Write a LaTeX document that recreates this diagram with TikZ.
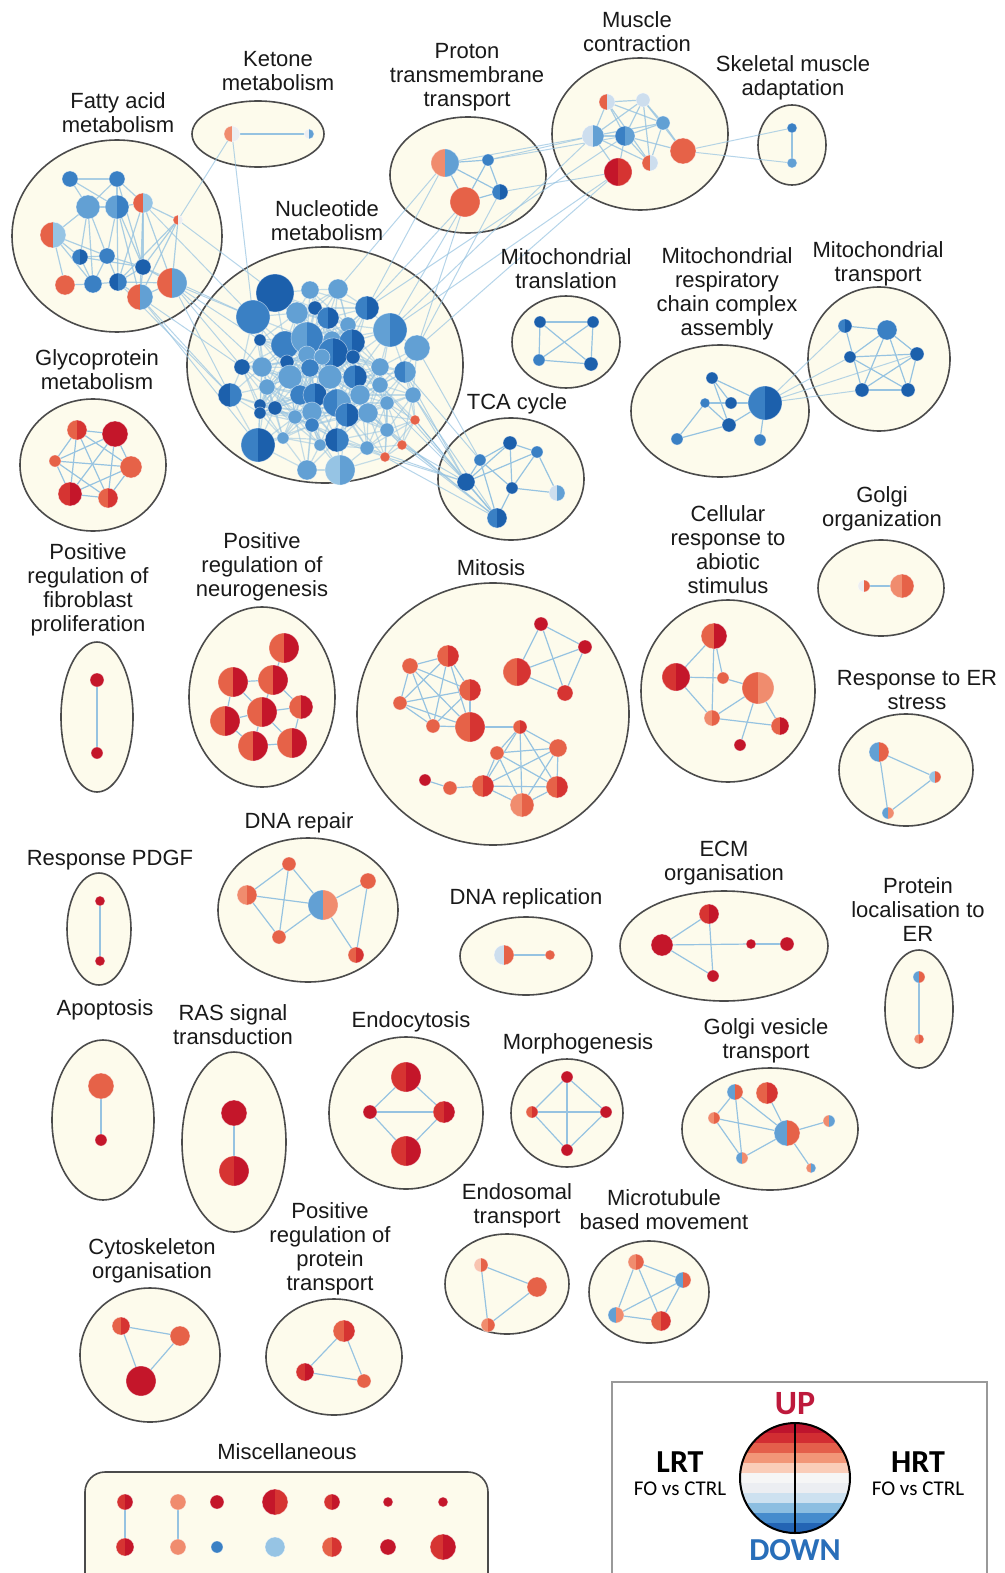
\documentclass[tikz,border=0pt]{standalone}
\usepackage{fontspec}
\setmainfont{Liberation Sans}
\newfontfamily\legfont{Carlito}
\usetikzlibrary{calc}
\pgfdeclarelayer{bg}\pgfdeclarelayer{edges}
\pgfsetlayers{bg,edges,main}
\definecolor{R1}{RGB}{196,22,42}
\definecolor{R2}{RGB}{214,52,50}
\definecolor{R3}{RGB}{230,98,72}
\definecolor{R4}{RGB}{240,140,110}
\definecolor{R5}{RGB}{248,196,176}
\definecolor{W}{RGB}{236,238,242}
\definecolor{B5}{RGB}{205,222,238}
\definecolor{B4}{RGB}{150,196,228}
\definecolor{B3}{RGB}{98,160,212}
\definecolor{B2}{RGB}{58,128,196}
\definecolor{B1}{RGB}{28,96,172}
\definecolor{cream}{RGB}{253,251,236}
\definecolor{border}{RGB}{75,75,75}
\definecolor{edgec}{RGB}{150,195,225}
\definecolor{upc}{RGB}{190,25,60}
\definecolor{downc}{RGB}{40,110,185}
\newcommand{\mynd}[6]{%
 \coordinate (#1) at (#2,#3);
 \fill[#5] (#2,#3) ++(0,#4) arc[start angle=90,delta angle=180,radius=#4] -- cycle;
 \fill[#6] (#2,#3) ++(0,#4) arc[start angle=90,delta angle=-180,radius=#4] -- cycle;
 \draw[white,line width=0.3pt,opacity=0.5] (#2,#3) circle (#4);
}
\newcommand{\labfont}{\fontsize{11}{12}\selectfont}
\tikzset{
 clus/.style={fill=cream,draw=border,line width=0.8pt},
 lab/.style={font=\labfont,align=center,inner sep=0pt,text=black!90},
 edge/.style={draw=edgec,line width=0.6pt},
 xedge/.style={draw=edgec,line width=0.5pt,opacity=0.7}
}
\newdimen\ddx \newdimen\ddy
\begin{document}
\begin{tikzpicture}[x=0.5pt,y=-0.5pt]
\useasboundingbox (0,0) rectangle (1005,1573);
% ---------------- clusters
\begin{pgfonlayer}{bg}
\fill[white] (0,0) rectangle (1005,1573);
\path[clus] (117,236) ellipse [x radius=105, y radius=96];
\path[clus] (258,134) ellipse [x radius=66, y radius=33];
\path[clus] (468,175) ellipse [x radius=78, y radius=58];
\path[clus] (640,134) ellipse [x radius=88, y radius=76];
\path[clus] (792,145) ellipse [x radius=34, y radius=40];
\path[clus] (325,365) ellipse [x radius=138, y radius=118];
\path[clus] (566,342) ellipse [x radius=54, y radius=46];
\path[clus] (720,411) ellipse [x radius=89, y radius=66];
\path[clus] (879,359) ellipse [x radius=71, y radius=72];
\path[clus] (511,479) ellipse [x radius=73, y radius=61];
\path[clus] (93,465) ellipse [x radius=73, y radius=66];
\path[clus] (97,717) ellipse [x radius=36, y radius=75];
\path[clus] (262,697) ellipse [x radius=73, y radius=90];
\path[clus] (493,714) ellipse [x radius=136, y radius=131];
\path[clus] (728,691) ellipse [x radius=87, y radius=91];
\path[clus] (881,588) ellipse [x radius=63, y radius=48];
\path[clus] (906,770) ellipse [x radius=67, y radius=56];
\path[clus] (99,929) ellipse [x radius=32, y radius=56];
\path[clus] (308,910) ellipse [x radius=90, y radius=72];
\path[clus] (526,956) ellipse [x radius=66, y radius=39];
\path[clus] (724,946) ellipse [x radius=104, y radius=55];
\path[clus] (919,1009) ellipse [x radius=34, y radius=59];
\path[clus] (103,1120) ellipse [x radius=51, y radius=80];
\path[clus] (234,1142) ellipse [x radius=52, y radius=90];
\path[clus] (406,1113) ellipse [x radius=77, y radius=76];
\path[clus] (567,1113) ellipse [x radius=56, y radius=54];
\path[clus] (770,1129) ellipse [x radius=88, y radius=61];
\path[clus] (507,1284) ellipse [x radius=62, y radius=50];
\path[clus] (649,1292) ellipse [x radius=60, y radius=51];
\path[clus] (150,1355) ellipse [x radius=70, y radius=67];
\path[clus] (334,1357) ellipse [x radius=68, y radius=58];
\path[clus,rounded corners=10pt] (85,1472) rectangle (488,1610);
\draw[black!40,line width=0.6pt,fill=white] (612,1382) rectangle (987,1610);
\end{pgfonlayer}
% ---------------- labels
\node[lab] (tfat) at (118,113) {Fatty acid\\metabolism};
\node[lab] (tket) at (278,71) {Ketone\\metabolism};
\node[lab] (tpro) at (467,77) {Proton\\transmembrane\\transport};
\node[lab] (tmus) at (637,32) {Muscle\\contraction};
\node[lab] (tske) at (793,78) {Skeletal muscle\\adaptation};
\node[lab] (tnuc) at (327,221) {Nucleotide\\metabolism};
\node[lab] (tmtl) at (566,269) {Mitochondrial\\translation};
\node[lab] (tmrc) at (727,294) {Mitochondrial\\respiratory\\chain complex\\assembly};
\node[lab] (tmtr) at (878,264) {Mitochondrial\\transport};
\node[lab] (tgly) at (97,370) {Glycoprotein\\metabolism};
\node[lab] (ttca) at (517,404) {TCA cycle};
\node[lab] (tfib) at (88,590) {Positive\\regulation of\\fibroblast\\proliferation};
\node[lab] (tneu) at (262,567) {Positive\\regulation of\\neurogenesis};
\node[lab] (tmit) at (491,568) {Mitosis};
\node[lab] (tcel) at (728,550) {Cellular\\response to\\abiotic\\stimulus};
\node[lab] (tgol) at (882,509) {Golgi\\organization};
\node[lab] (ters) at (917,690) {Response to ER\\stress};
\node[lab] (tpdg) at (110,860) {Response PDGF};
\node[lab] (tdnr) at (299,823) {DNA repair};
\node[lab] (tdnp) at (526,899) {DNA replication};
\node[lab] (tecm) at (724,863) {ECM\\organisation};
\node[lab] (tplo) at (918,910) {Protein\\localisation to\\ER};
\node[lab] (tapo) at (105,1010) {Apoptosis};
\node[lab] (tras) at (233,1025) {RAS signal\\transduction};
\node[lab] (tend) at (411,1022) {Endocytosis};
\node[lab] (tmor) at (578,1044) {Morphogenesis};
\node[lab] (tgvt) at (766,1041) {Golgi vesicle\\transport};
\node[lab] (tens) at (517,1206) {Endosomal\\transport};
\node[lab] (tmic) at (664,1210) {Microtubule\\based movement};
\node[lab] (tcyt) at (152,1261) {Cytoskeleton\\organisation};
\node[lab] (tppt) at (330,1249) {Positive\\regulation of\\protein\\transport};
\node[lab] (tmis) at (287,1452) {Miscellaneous};
% ---------------- nodes
% fatty acid
\mynd{fa1}{70}{179}{8}{B2}{B2}
\mynd{fa2}{117}{179}{8}{B2}{B2}
\mynd{fa3}{88}{207}{12}{B3}{B3}
\mynd{fa4}{117}{207}{12}{B3}{B2}
\mynd{fa5}{143}{203}{10}{R3}{B4}
\mynd{fa6}{178}{220}{5}{R3}{W}
\mynd{fa7}{53}{235}{13}{R3}{B4}
\mynd{fa8}{80}{257}{8}{B2}{B1}
\mynd{fa9}{107}{256}{8}{B2}{B2}
\mynd{fa10}{143}{267}{8}{B1}{B1}
\mynd{fa11}{65}{285}{10}{R3}{R3}
\mynd{fa12}{93}{284}{9}{B2}{B2}
\mynd{fa13}{118}{282}{9}{B1}{B2}
\mynd{fa14}{140}{297}{13}{R3}{B3}
\mynd{fa15}{172}{283}{15}{R3}{B3}
% ketone
\mynd{ke1}{232}{134}{8}{R4}{W}
\mynd{ke2}{309}{134}{5}{W}{B3}
% proton
\mynd{pt1}{445}{163}{14}{R4}{B3}
\mynd{pt2}{488}{160}{6}{B2}{B2}
\mynd{pt3}{500}{192}{8}{B2}{B1}
\mynd{pt4}{465}{202}{15}{R3}{R3}
% muscle
\mynd{mc1}{607}{102}{8}{R3}{B5}
\mynd{mc2}{643}{100}{7}{B5}{B5}
\mynd{mc3}{593}{136}{11}{B5}{B3}
\mynd{mc4}{625}{136}{10}{B2}{B3}
\mynd{mc5}{663}{123}{7}{B3}{B3}
\mynd{mc6}{683}{151}{13}{R3}{R3}
\mynd{mc7}{618}{172}{14}{R1}{R2}
\mynd{mc8}{650}{163}{8}{R3}{B5}
% skeletal
\mynd{sk1}{792}{128}{5}{B2}{B2}
\mynd{sk2}{792}{163}{5}{B3}{B3}
% nucleotide
\foreach \i/\x/\y/\r/\cl/\cr in {
1/275/293/19/B1/B1, 2/310/290/9/B3/B3, 3/338/289/10/B3/B3, 4/367/308/12/B2/B1,
5/253/317/17/B2/B2, 6/297/313/11/B3/B3, 7/315/308/7/B1/B1, 8/328/318/11/B2/B1,
9/348/325/8/B3/B3, 10/390/330/17/B3/B2, 11/417/348/13/B3/B3, 12/260/340/6/B1/B1,
13/285/345/14/B2/B2, 14/307/338/16/B3/B2, 15/332/340/9/B3/B3, 16/352/342/13/B2/B1,
17/333/353/15/B2/B1, 18/307/355/9/B3/B3, 19/322/357/8/B3/B3, 20/353/357/7/B1/B1,
21/242/367/8/B1/B1, 22/262/367/10/B3/B3, 23/287/362/7/B1/B1, 24/310/368/9/B2/B2,
25/380/367/9/B3/B3, 26/405/372/11/B2/B3, 27/290/377/12/B3/B3, 28/330/377/12/B3/B3,
29/355/377/12/B2/B1, 30/267/387/8/B3/B3, 31/380/385/8/B3/B3, 32/413/395/8/B3/B3,
33/230/395/12/B1/B2, 34/300/395/10/B2/B2, 35/315/395/12/B2/B1, 36/337/403/14/B2/B3,
37/360/395/10/B3/B3, 38/260/405/6/B1/B1, 39/275/408/7/B1/B1, 40/260/413/6/B1/B1,
41/295/417/7/B3/B3, 42/312/412/10/B3/B3, 43/347/415/12/B2/B1, 44/368/413/10/B3/B3,
45/387/403/7/B3/B3, 46/415/420/5/R3/R3, 47/312/425/7/B2/B2, 48/387/430/7/B3/B3,
49/258/445/17/B2/B1, 50/283/438/6/B3/B3, 51/320/445/6/B3/B3, 52/337/440/12/B1/B2,
53/367/448/7/B3/B3, 54/402/445/5/R3/R3, 55/385/457/5/R3/R3, 56/307/470/10/B3/B3,
57/340/470/15/B4/B3}{\mynd{n\i}{\x}{\y}{\r}{\cl}{\cr}}
% mito translation
\mynd{ml1}{540}{322}{6}{B1}{B1}
\mynd{ml2}{593}{322}{6}{B1}{B1}
\mynd{ml3}{539}{360}{6}{B2}{B2}
\mynd{ml4}{591}{364}{7}{B1}{B1}
% mito respiratory
\mynd{mr1}{712}{378}{6}{B1}{B1}
\mynd{mr2}{705}{403}{5}{B2}{B2}
\mynd{mr3}{731}{403}{6}{B1}{B1}
\mynd{mr4}{765}{403}{17}{B2}{B1}
\mynd{mr5}{677}{439}{6}{B2}{B2}
\mynd{mr6}{729}{425}{7}{B1}{B1}
\mynd{mr7}{760}{440}{6}{B2}{B2}
% mito transport
\mynd{mt1}{845}{326}{7}{B2}{B1}
\mynd{mt2}{887}{330}{10}{B2}{B2}
\mynd{mt3}{850}{357}{6}{B1}{B1}
\mynd{mt4}{917}{354}{7}{B1}{B1}
\mynd{mt5}{862}{390}{7}{B1}{B1}
\mynd{mt6}{908}{390}{7}{B1}{B1}
% TCA
\mynd{tc1}{510}{443}{7}{B1}{B1}
\mynd{tc2}{537}{452}{6}{B2}{B2}
\mynd{tc3}{480}{460}{6}{B2}{B2}
\mynd{tc4}{466}{482}{9}{B1}{B1}
\mynd{tc5}{512}{488}{6}{B1}{B1}
\mynd{tc6}{557}{493}{8}{B5}{B3}
\mynd{tc7}{497}{518}{10}{B2}{B1}
% glycoprotein
\mynd{gl1}{77}{430}{10}{R3}{R2}
\mynd{gl2}{115}{434}{13}{R1}{R1}
\mynd{gl3}{55}{461}{6}{R3}{R3}
\mynd{gl4}{131}{467}{11}{R3}{R3}
\mynd{gl5}{70}{494}{12}{R2}{R1}
\mynd{gl6}{108}{498}{10}{R3}{R2}
% fibroblast
\mynd{fb1}{97}{680}{7}{R1}{R1}
\mynd{fb2}{97}{753}{6}{R1}{R1}
% neurogenesis
\mynd{ng1}{284}{648}{15}{R3}{R1}
\mynd{ng2}{233}{682}{15}{R3}{R1}
\mynd{ng3}{273}{680}{15}{R3}{R1}
\mynd{ng4}{225}{721}{15}{R3}{R1}
\mynd{ng5}{262}{712}{15}{R3}{R1}
\mynd{ng6}{301}{707}{12}{R3}{R1}
\mynd{ng7}{253}{746}{15}{R3}{R1}
\mynd{ng8}{292}{743}{15}{R3}{R1}
% mitosis
\mynd{mi1}{541}{624}{7}{R1}{R1}
\mynd{mi2}{585}{647}{7}{R1}{R1}
\mynd{mi3}{517}{672}{14}{R3}{R2}
\mynd{mi4}{565}{693}{8}{R2}{R2}
\mynd{mi5}{448}{656}{11}{R3}{R2}
\mynd{mi6}{410}{666}{8}{R3}{R3}
\mynd{mi7}{470}{690}{11}{R3}{R2}
\mynd{mi8}{400}{703}{7}{R3}{R3}
\mynd{mi9}{433}{726}{7}{R3}{R3}
\mynd{mi10}{470}{727}{15}{R3}{R2}
\mynd{mi11}{520}{727}{7}{R3}{R2}
\mynd{mi12}{558}{748}{9}{R3}{R3}
\mynd{mi13}{497}{753}{7}{R3}{R3}
\mynd{mi14}{425}{780}{6}{R1}{R1}
\mynd{mi15}{450}{788}{7}{R3}{R3}
\mynd{mi16}{483}{786}{11}{R3}{R2}
\mynd{mi17}{557}{787}{11}{R3}{R2}
\mynd{mi18}{522}{805}{12}{R4}{R3}
% cellular response
\mynd{cr1}{714}{636}{13}{R3}{R1}
\mynd{cr2}{676}{677}{14}{R2}{R1}
\mynd{cr3}{723}{678}{6}{R3}{R3}
\mynd{cr4}{758}{688}{16}{R3}{R4}
\mynd{cr5}{712}{718}{8}{R4}{R3}
\mynd{cr6}{780}{726}{9}{R3}{R1}
\mynd{cr7}{740}{745}{6}{R1}{R1}
% golgi org
\mynd{go1}{864}{586}{6}{W}{R3}
\mynd{go2}{902}{586}{12}{R4}{R3}
% ER stress
\mynd{er1}{879}{752}{10}{B3}{R3}
\mynd{er2}{935}{777}{6}{B4}{R3}
\mynd{er3}{888}{813}{6}{B3}{R4}
% PDGF
\mynd{pd1}{100}{901}{5}{R1}{R1}
\mynd{pd2}{100}{961}{5}{R1}{R1}
% DNA repair
\mynd{dr1}{289}{864}{7}{R3}{R3}
\mynd{dr2}{247}{895}{10}{R4}{R3}
\mynd{dr3}{323}{905}{15}{B3}{R4}
\mynd{dr4}{368}{881}{8}{R3}{R3}
\mynd{dr5}{279}{937}{7}{R3}{R3}
\mynd{dr6}{356}{955}{8}{R3}{R2}
% DNA replication
\mynd{dp1}{504}{955}{10}{B5}{R3}
\mynd{dp2}{550}{955}{5}{R3}{R3}
% ECM
\mynd{ec1}{709}{914}{10}{R2}{R1}
\mynd{ec2}{662}{945}{11}{R1}{R1}
\mynd{ec3}{751}{944}{5}{R1}{R1}
\mynd{ec4}{787}{944}{7}{R1}{R1}
\mynd{ec5}{713}{976}{6}{R1}{R1}
% protein loc
\mynd{pl1}{919}{977}{6}{B3}{R3}
\mynd{pl2}{919}{1039}{5}{R4}{R3}
% apoptosis
\mynd{ap1}{101}{1086}{13}{R3}{R3}
\mynd{ap2}{101}{1140}{6}{R1}{R1}
% RAS
\mynd{ra1}{234}{1113}{13}{R1}{R1}
\mynd{ra2}{234}{1171}{15}{R2}{R1}
% endocytosis
\mynd{en1}{406}{1077}{15}{R2}{R1}
\mynd{en2}{370}{1112}{7}{R1}{R1}
\mynd{en3}{444}{1112}{11}{R2}{R1}
\mynd{en4}{406}{1151}{15}{R2}{R1}
% morphogenesis
\mynd{mo1}{567}{1077}{6}{R1}{R1}
\mynd{mo2}{532}{1112}{6}{R3}{R2}
\mynd{mo3}{606}{1112}{6}{R1}{R1}
\mynd{mo4}{567}{1150}{6}{R1}{R1}
% golgi vesicle
\mynd{gv1}{735}{1092}{8}{B3}{R3}
\mynd{gv2}{767}{1093}{11}{R3}{R2}
\mynd{gv3}{714}{1118}{6}{R4}{R3}
\mynd{gv4}{787}{1133}{13}{B3}{R3}
\mynd{gv5}{829}{1121}{6}{R4}{B3}
\mynd{gv6}{742}{1158}{6}{B3}{R4}
\mynd{gv7}{811}{1168}{5}{R4}{B3}
% endosomal
\mynd{es1}{481}{1265}{7}{R5}{R3}
\mynd{es2}{537}{1287}{10}{R3}{R3}
\mynd{es3}{488}{1325}{7}{R4}{R3}
% microtubule
\mynd{mt7}{636}{1262}{8}{R4}{R3}
\mynd{mt8}{683}{1280}{8}{B3}{R3}
\mynd{mt9}{616}{1315}{8}{B3}{R4}
\mynd{mt10}{661}{1321}{10}{R3}{R2}
% cytoskeleton
\mynd{cy1}{121}{1326}{9}{R3}{R2}
\mynd{cy2}{180}{1336}{10}{R3}{R3}
\mynd{cy3}{141}{1381}{15}{R1}{R1}
% positive reg protein transport
\mynd{pp1}{344}{1331}{11}{R3}{R2}
\mynd{pp2}{305}{1372}{9}{R2}{R1}
\mynd{pp3}{364}{1381}{7}{R3}{R3}
% miscellaneous
\mynd{ms1}{125}{1502}{8}{R2}{R1}
\mynd{ms2}{178}{1502}{8}{R4}{R4}
\mynd{ms3}{217}{1502}{7}{R1}{R1}
\mynd{ms4}{275}{1502}{13}{R1}{R2}
\mynd{ms5}{332}{1502}{8}{R2}{R1}
\mynd{ms6}{388}{1502}{5}{R1}{R1}
\mynd{ms7}{443}{1502}{5}{R1}{R1}
\mynd{ms8}{125}{1547}{9}{R2}{R1}
\mynd{ms9}{178}{1547}{8}{R4}{R4}
\mynd{ms10}{217}{1547}{6}{B2}{B2}
\mynd{ms11}{275}{1547}{10}{B4}{B4}
\mynd{ms12}{332}{1547}{10}{R3}{R2}
\mynd{ms13}{388}{1547}{8}{R1}{R1}
\mynd{ms14}{443}{1547}{13}{R2}{R1}
% ---------------- edges
\begin{pgfonlayer}{edges}
% nucleotide mesh
\foreach \i in {1,...,57}{\foreach \j in {1,...,57}{\ifnum\i<\j\relax
  \pgfextractx{\ddx}{\pgfpointdiff{\pgfpointanchor{n\i}{center}}{\pgfpointanchor{n\j}{center}}}%
  \pgfextracty{\ddy}{\pgfpointdiff{\pgfpointanchor{n\i}{center}}{\pgfpointanchor{n\j}{center}}}%
  \pgfmathveclen{\ddx}{\ddy}%
  \ifdim\pgfmathresult pt<30pt\relax \draw[edge,opacity=0.55] (n\i) -- (n\j);\fi
\fi}}
% fatty acid mesh
\foreach \a/\b in {fa1/fa2,fa1/fa3,fa1/fa4,fa2/fa3,fa2/fa4,fa2/fa5,fa3/fa4,fa3/fa7,fa3/fa8,fa3/fa9,fa4/fa5,fa4/fa9,fa4/fa10,fa4/fa13,fa5/fa6,fa5/fa10,fa5/fa13,fa5/fa14,fa5/fa15,fa6/fa10,fa6/fa13,fa6/fa15,fa6/fa14,fa7/fa8,fa7/fa11,fa7/fa12,fa8/fa9,fa8/fa12,fa8/fa10,fa9/fa10,fa9/fa13,fa9/fa12,fa10/fa13,fa10/fa14,fa10/fa15,fa11/fa12,fa12/fa13,fa13/fa14,fa13/fa15,fa14/fa15,fa3/fa12,fa4/fa14,fa2/fa10,fa7/fa9}
 {\draw[edge,opacity=0.8] (\a) -- (\b);}
% ketone
\draw[edge] (ke1) -- (ke2);
\draw[xedge] (ke1) -- (fa6);
\draw[xedge] (ke1) -- (n5);
% fatty acid to nucleotide
\foreach \a/\b in {fa15/n5,fa15/n21,fa15/n12,fa15/n33,fa14/n33,fa14/n21,fa14/n49,fa15/n22,fa10/n5,fa6/n1,fa13/n33,fa5/n5}
 {\draw[xedge] (\a) -- (\b);}
% proton
\foreach \a/\b in {pt1/pt2,pt2/pt3,pt2/pt4,pt1/pt4,pt4/pt3,pt1/pt3}
 {\draw[edge] (\a) -- (\b);}
\foreach \a/\b in {pt1/mc3,pt2/mc3,pt3/mc7,pt2/mc4,pt1/n4,pt4/n10,pt4/n11,pt1/n3,pt4/n4,pt3/n11,mc3/n10,mc7/n11,mc4/n4,mc7/n10}
 {\draw[xedge] (\a) -- (\b);}
% muscle
\foreach \a/\b in {mc1/mc2,mc1/mc3,mc1/mc4,mc1/mc5,mc2/mc3,mc2/mc4,mc2/mc5,mc2/mc8,mc3/mc4,mc3/mc5,mc4/mc5,mc4/mc8,mc5/mc8,mc3/mc8,mc4/mc6,mc5/mc6,mc1/mc8,mc2/mc6,mc3/mc7,mc4/mc7}
 {\draw[edge,opacity=0.8] (\a) -- (\b);}
\draw[edge] (sk1) -- (sk2);
\draw[xedge] (mc6) -- (sk1);
\draw[xedge] (mc6) -- (sk2);
% mito translation
\foreach \a/\b in {ml1/ml2,ml1/ml3,ml1/ml4,ml2/ml3,ml2/ml4,ml3/ml4}
 {\draw[edge] (\a) -- (\b);}
% mito respiratory
\foreach \a/\b in {mr1/mr3,mr1/mr6,mr1/mr4,mr2/mr5,mr2/mr6,mr3/mr4,mr5/mr6,mr6/mr4,mr4/mr7,mr2/mr3}
 {\draw[edge] (\a) -- (\b);}
\foreach \a/\b in {mr4/mt1,mr4/mt3,mr4/mt5,mr4/mt4}
 {\draw[xedge] (\a) -- (\b);}
% mito transport
\foreach \a/\b in {mt1/mt2,mt1/mt5,mt2/mt5,mt2/mt4,mt2/mt6,mt3/mt4,mt3/mt6,mt4/mt6,mt5/mt6,mt4/mt5,mt3/mt2}
 {\draw[edge] (\a) -- (\b);}
% TCA
\foreach \a/\b in {tc1/tc2,tc1/tc3,tc1/tc4,tc1/tc5,tc2/tc5,tc2/tc6,tc3/tc4,tc3/tc5,tc3/tc7,tc4/tc7,tc5/tc7,tc5/tc6,tc4/tc2}
 {\draw[edge] (\a) -- (\b);}
\foreach \a/\b in {n54/tc4,n55/tc4,n46/tc4,n32/tc4,n26/tc3,n54/tc7,n55/tc7,n48/tc7,n46/tc7,n53/tc4,n11/tc3,n45/tc4,n32/tc7,n31/tc4,n44/tc7,n26/tc4}
 {\draw[xedge] (\a) -- (\b);}
% glycoprotein
\foreach \a/\b in {gl1/gl2,gl1/gl3,gl1/gl4,gl1/gl5,gl1/gl6,gl2/gl3,gl2/gl4,gl2/gl5,gl2/gl6,gl3/gl4,gl3/gl5,gl3/gl6,gl4/gl5,gl4/gl6,gl5/gl6}
 {\draw[edge] (\a) -- (\b);}
\draw[edge] (fb1) -- (fb2);
% neurogenesis
\foreach \a/\b in {ng2/ng3,ng3/ng5,ng4/ng5,ng5/ng6,ng7/ng8,ng5/ng7,ng5/ng8,ng3/ng6,ng4/ng7,ng2/ng5,ng1/ng3,ng2/ng4,ng6/ng8}
 {\draw[edge] (\a) -- (\b);}
% mitosis
\foreach \a/\b in {mi5/mi6,mi5/mi7,mi5/mi8,mi5/mi9,mi5/mi10,mi6/mi7,mi6/mi8,mi6/mi9,mi7/mi8,mi7/mi9,mi7/mi10,mi8/mi9,mi9/mi10,mi8/mi10,mi6/mi10,
 mi1/mi2,mi1/mi3,mi1/mi4,mi2/mi3,mi2/mi4,mi3/mi4,
 mi11/mi12,mi11/mi13,mi11/mi16,mi11/mi17,mi11/mi18,mi12/mi13,mi12/mi16,mi12/mi17,mi12/mi18,mi13/mi16,mi13/mi17,mi13/mi18,mi16/mi17,mi16/mi18,mi17/mi18,mi15/mi16,mi14/mi15,mi10/mi11}
 {\draw[edge] (\a) -- (\b);}
% cellular response
\foreach \a/\b in {cr1/cr2,cr1/cr3,cr1/cr5,cr2/cr3,cr2/cr5,cr3/cr4,cr5/cr4,cr4/cr6,cr4/cr7,cr5/cr6}
 {\draw[edge] (\a) -- (\b);}
\draw[edge] (go1) -- (go2);
\foreach \a/\b in {er1/er2,er2/er3,er1/er3}{\draw[edge] (\a) -- (\b);}
\draw[edge] (pd1) -- (pd2);
% DNA repair
\foreach \a/\b in {dr1/dr2,dr1/dr5,dr2/dr3,dr2/dr5,dr5/dr3,dr3/dr4,dr3/dr6,dr4/dr6,dr1/dr3}
 {\draw[edge] (\a) -- (\b);}
\draw[edge] (dp1) -- (dp2);
% ECM
\foreach \a/\b in {ec1/ec2,ec1/ec5,ec2/ec5,ec2/ec3,ec3/ec4}{\draw[edge] (\a) -- (\b);}
\draw[edge] (pl1) -- (pl2);
\draw[edge] (ap1) -- (ap2);
\draw[edge] (ra1) -- (ra2);
\foreach \a/\b in {en1/en2,en1/en3,en2/en3,en2/en4,en3/en4}{\draw[edge] (\a) -- (\b);}
\foreach \a/\b in {mo1/mo2,mo1/mo3,mo1/mo4,mo2/mo3,mo2/mo4,mo3/mo4}{\draw[edge] (\a) -- (\b);}
\foreach \a/\b in {gv1/gv4,gv1/gv6,gv3/gv4,gv3/gv6,gv4/gv5,gv4/gv7,gv6/gv4,gv2/gv4,gv1/gv3}{\draw[edge] (\a) -- (\b);}
\foreach \a/\b in {es1/es2,es1/es3,es2/es3}{\draw[edge] (\a) -- (\b);}
\foreach \a/\b in {mt7/mt8,mt7/mt9,mt7/mt10,mt8/mt9,mt8/mt10,mt9/mt10}{\draw[edge] (\a) -- (\b);}
\foreach \a/\b in {cy1/cy2,cy1/cy3,cy2/cy3}{\draw[edge] (\a) -- (\b);}
\foreach \a/\b in {pp1/pp2,pp1/pp3,pp2/pp3}{\draw[edge] (\a) -- (\b);}
\draw[edge] (ms1) -- (ms8);
\draw[edge] (ms2) -- (ms9);
\end{pgfonlayer}
% ---------------- legend
\begin{scope}
\clip (795,1478) circle (55);
\foreach \k/\c in {0/{190,20,45},1/{210,45,50},2/{228,95,75},3/{242,150,120},4/{250,205,185},5/{246,246,246},6/{236,238,242},7/{205,225,240},8/{140,190,225},9/{70,140,205},10/{35,100,180}}{
 \definecolor{stc}{RGB}{\c}
 \fill[stc] (735,1423+\k*10) rectangle (855,1434+\k*10);
}
\end{scope}
\coordinate (lgc) at (795,1478);
\draw[black,line width=1pt] (lgc) circle (55);
\draw[black,line width=1pt] (795,1423) -- (795,1533);
\node[font=\legfont\bfseries\fontsize{17}{18}\selectfont,text=upc,inner sep=0pt] (lup) at (795,1404) {UP};
\node[font=\legfont\bfseries\fontsize{16}{18}\selectfont,text=downc,inner sep=0pt] (ldown) at (795,1550) {DOWN};
\node[font=\legfont\bfseries\fontsize{16}{18}\selectfont,inner sep=0pt] (llrt) at (680,1462) {LRT};
\node[font=\legfont\fontsize{10.5}{12}\selectfont,inner sep=0pt] (llrt2) at (680,1489) {FO vs CTRL};
\node[font=\legfont\bfseries\fontsize{16}{18}\selectfont,inner sep=0pt] (lhrt) at (918,1462) {HRT};
\node[font=\legfont\fontsize{10.5}{12}\selectfont,inner sep=0pt] (lhrt2) at (918,1489) {FO vs CTRL};
\end{tikzpicture}
\end{document}
